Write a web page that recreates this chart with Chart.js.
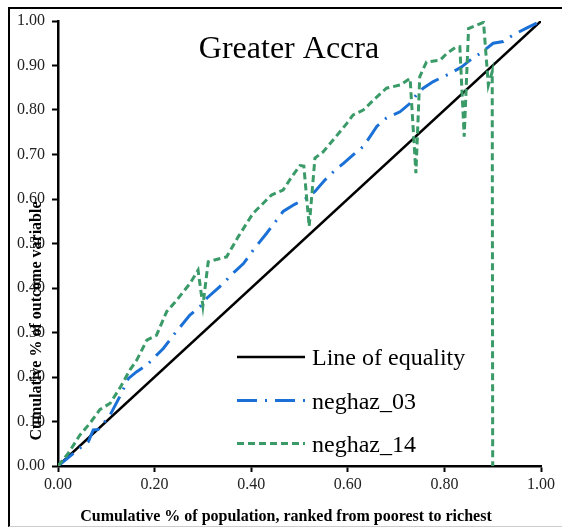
<!DOCTYPE html>
<html>
<head>
<meta charset="utf-8">
<script src="https://cdn.jsdelivr.net/npm/chart.js@4"></script>
<style>
  body { margin: 0; padding: 0; background: #fff; overflow: hidden; }
  .wrap { position: relative; width: 562px; height: 527px; }
  .frame {
    position: absolute; left: 8px; top: 7px; width: 600px; height: 517px;
    border-left: 2px solid #000; border-top: 2px solid #000; border-bottom: 1px solid #ccc;
  }
  canvas { position: absolute; left: 0; top: 0; }
</style>
</head>
<body>
<div class="wrap">
  <div class="frame"></div>
  <canvas id="chart" width="562" height="527"></canvas>
</div>
<script>
// concentration curves, Greater Accra
const seriesNames = ["Line of equality", "neghaz_03", "neghaz_14"];

const equalityX = [0, 1];
const equalityY = [0, 1];

const neghaz03X = [0, 0.045, 0.063, 0.073, 0.083, 0.094, 0.108, 0.128, 0.146, 0.163, 0.184, 0.218,
  0.242, 0.273, 0.294, 0.308, 0.335, 0.366, 0.384, 0.404, 0.432, 0.453, 0.466, 0.490, 0.515, 0.532,
  0.553, 0.570, 0.591, 0.611, 0.632, 0.646, 0.660, 0.680, 0.708, 0.729, 0.742, 0.756, 0.777, 0.812,
  0.836, 0.853, 0.874, 0.901, 0.922, 0.943, 0.970, 1.000];
const neghaz03Y = [0, 0.040, 0.055, 0.081, 0.082, 0.096, 0.115, 0.156, 0.197, 0.212, 0.227, 0.264,
  0.298, 0.339, 0.358, 0.377, 0.403, 0.437, 0.455, 0.485, 0.523, 0.553, 0.572, 0.588, 0.602, 0.617,
  0.643, 0.661, 0.680, 0.699, 0.718, 0.740, 0.763, 0.782, 0.796, 0.815, 0.834, 0.849, 0.864, 0.882,
  0.897, 0.912, 0.927, 0.950, 0.954, 0.969, 0.984, 1.000];

const neghaz14X = [0, 0.021, 0.045, 0.066, 0.087, 0.108, 0.128, 0.149, 0.163, 0.184, 0.204, 0.225,
  0.246, 0.273, 0.290, 0.300, 0.311, 0.349, 0.373, 0.404, 0.418, 0.442, 0.466, 0.484, 0.501, 0.509,
  0.520, 0.532, 0.549, 0.570, 0.598, 0.611, 0.632, 0.653, 0.680, 0.708, 0.729, 0.741, 0.749, 0.763,
  0.791, 0.805, 0.825, 0.832, 0.841, 0.850, 0.881, 0.891, 0.899, 0.900];
const neghaz14Y = [0, 0.028, 0.069, 0.096, 0.127, 0.141, 0.175, 0.216, 0.238, 0.283, 0.294, 0.347,
  0.373, 0.410, 0.440, 0.360, 0.459, 0.470, 0.515, 0.568, 0.583, 0.609, 0.620, 0.650, 0.675, 0.674,
  0.538, 0.692, 0.706, 0.733, 0.770, 0.789, 0.800, 0.822, 0.849, 0.856, 0.871, 0.658, 0.875, 0.908,
  0.912, 0.927, 0.942, 0.942, 0.740, 0.983, 0.997, 0.856, 0.886, 0.000];

const xTicks = [0, 0.2, 0.4, 0.6, 0.8, 1.0];
const yTicks = [0, 0.1, 0.2, 0.3, 0.4, 0.5, 0.6, 0.7, 0.8, 0.9, 1.0];

const toPoints = (xs, ys) => xs.map((x, i) => ({ x: x, y: ys[i] }));

const SERIF = "'Liberation Serif', 'Times New Roman', serif";

// texts that excel puts at odd places: title, axis titles, legend inside the plot
const textPlugin = {
  id: "texts",
  afterDraw(chart) {
    const ctx = chart.ctx;
    ctx.save();
    ctx.fillStyle = "#000";

    ctx.font = "32px " + SERIF;
    ctx.textAlign = "center";
    ctx.textBaseline = "alphabetic";
    ctx.fillText("Greater Accra", 289, 58);

    ctx.font = "bold 16px " + SERIF;
    ctx.fillText("Cumulative % of population, ranked from poorest to richest", 286, 521);

    ctx.save();
    ctx.translate(37, 321);
    ctx.rotate(-Math.PI / 2);
    ctx.textBaseline = "middle";
    ctx.fillText("Cumulative % of outcome variable", 0, 0);
    ctx.restore();

    // legend
    const rows = [357, 400.5, 443.5];
    chart.data.datasets.forEach((ds, i) => {
      ctx.save();
      ctx.strokeStyle = ds.borderColor;
      ctx.lineWidth = ds.borderWidth;
      ctx.setLineDash(ds.borderDash || []);
      ctx.beginPath();
      ctx.moveTo(237, rows[i]);
      ctx.lineTo(305, rows[i]);
      ctx.stroke();
      ctx.restore();
      ctx.font = "24px " + SERIF;
      ctx.textAlign = "left";
      ctx.textBaseline = "alphabetic";
      ctx.fillStyle = "#000";
      ctx.fillText(ds.label, 312, rows[i] + 8);
    });
    ctx.restore();
  }
};

const tickFont = { family: SERIF, size: 16 };

new Chart(document.getElementById("chart"), {
  type: "scatter",
  data: {
    datasets: [
      {
        label: seriesNames[0],
        data: toPoints(equalityX, equalityY),
        showLine: true, borderColor: "#000", borderWidth: 2.5, pointRadius: 0, order: 3
      },
      {
        label: seriesNames[1],
        data: toPoints(neghaz03X, neghaz03Y),
        showLine: true, borderColor: "#1a70d6", borderWidth: 3, borderDash: [20, 8, 2, 8],
        pointRadius: 0, order: 2
      },
      {
        label: seriesNames[2],
        data: toPoints(neghaz14X, neghaz14Y),
        showLine: true, borderColor: "#3a9a68", borderWidth: 3, borderDash: [7, 4],
        pointRadius: 0, order: 1
      }
    ]
  },
  options: {
    responsive: false,
    animation: false,
    layout: { padding: { top: 21, right: 21, left: 0, bottom: 0 } },
    plugins: { legend: { display: false }, title: { display: false }, tooltip: { enabled: false } },
    elements: { line: { tension: 0 } },
    scales: {
      x: {
        type: "linear", min: 0, max: 1,
        afterBuildTicks: (s) => { s.ticks = xTicks.map((v) => ({ value: v })); },
        afterFit: (s) => { s.height = 61; },
        ticks: { callback: (v) => Number(v).toFixed(2), font: tickFont, color: "#222", padding: 3, maxRotation: 0 },
        grid: { drawOnChartArea: false, tickLength: 6, tickColor: "#000", tickWidth: 2 },
        border: { color: "#000", width: 2.5 }
      },
      y: {
        type: "linear", min: 0, max: 1,
        afterBuildTicks: (s) => { s.ticks = yTicks.map((v) => ({ value: v })); },
        afterFit: (s) => { s.width = 58; },
        ticks: { callback: (v) => Number(v).toFixed(2), font: tickFont, color: "#222", padding: 7 },
        grid: { drawOnChartArea: false, tickLength: 6, tickColor: "#000", tickWidth: 2 },
        border: { color: "#000", width: 2.5 }
      }
    }
  },
  plugins: [textPlugin]
});
</script>
</body>
</html>
